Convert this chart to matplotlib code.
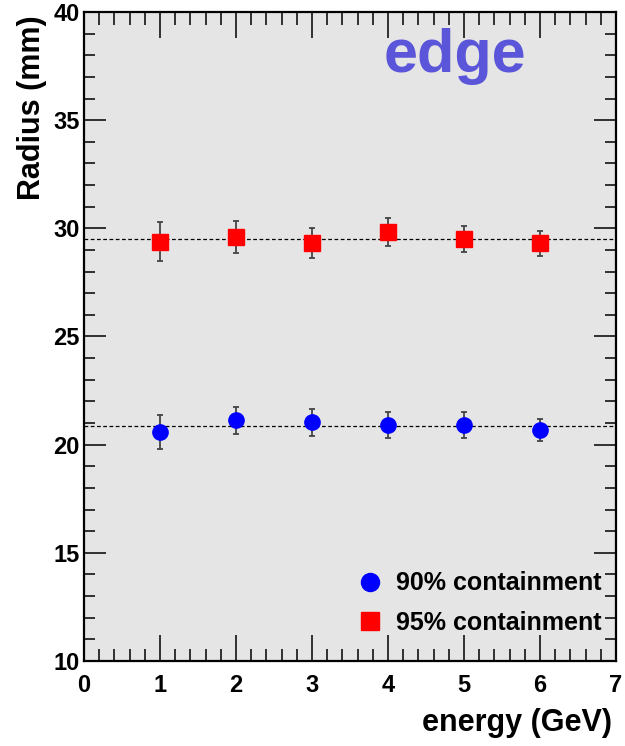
import numpy as np
import matplotlib
matplotlib.use("Agg")
import matplotlib.pyplot as plt
from matplotlib.ticker import MultipleLocator
from matplotlib.lines import Line2D

plt.rcParams['font.family'] = ['Liberation Sans', 'DejaVu Sans']
plt.rcParams['font.weight'] = 'bold'

energy = [1, 2, 3, 4, 5, 6]
r90 = [20.60, 21.12, 21.04, 20.89, 20.92, 20.69]
r90_err = [0.78, 0.63, 0.62, 0.60, 0.60, 0.51]
r95 = [29.38, 29.61, 29.31, 29.83, 29.52, 29.31]
r95_err = [0.90, 0.74, 0.70, 0.65, 0.60, 0.58]
labels = ['90% containment', '95% containment']

fig = plt.figure(figsize=(6.25, 7.46), dpi=100)
ax = fig.add_axes([84/625, 85/746, 532/625, 649/746])
ax.set_facecolor('#e5e5e5')

# average lines
ax.axhline(np.mean(r95), color='black', ls=(0, (3, 2)), lw=0.9, zorder=1)
ax.axhline(np.mean(r90), color='black', ls=(0, (3, 2)), lw=0.9, zorder=1)

ax.errorbar(energy, r90, yerr=r90_err, fmt='o', color='blue', ms=11,
            ecolor='#444444', elinewidth=1.3, capsize=2.5, capthick=1.3, zorder=3)
ax.errorbar(energy, r95, yerr=r95_err, fmt='s', color='red', ms=11,
            ecolor='#444444', elinewidth=1.3, capsize=2.5, capthick=1.3, zorder=3)

ax.set_xlim(0, 7)
ax.set_ylim(10, 40)
ax.xaxis.set_major_locator(MultipleLocator(1))
ax.xaxis.set_minor_locator(MultipleLocator(0.2))
ax.yaxis.set_major_locator(MultipleLocator(5))
ax.yaxis.set_minor_locator(MultipleLocator(1))
ax.tick_params(which='both', direction='in', top=True, right=True, width=1.1)
ax.tick_params(axis='x', which='major', length=19, labelsize=17, pad=9)
ax.tick_params(axis='x', which='minor', length=9)
ax.tick_params(axis='y', which='major', length=16, labelsize=17, pad=3)
ax.tick_params(axis='y', which='minor', length=8)
for s in ax.spines.values():
    s.set_linewidth(1.6)

ax.set_xlabel('energy (GeV)', fontsize=22, fontweight='bold', ha='right', va='top')
ax.xaxis.set_label_coords(0.9925, -0.073)
ax.set_ylabel('Radius (mm)', fontsize=22, fontweight='bold', ha='right', va='center')
ax.yaxis.set_label_coords(-0.0977, 0.9954)

ax.text(0.6974, 0.907, 'edge', transform=ax.transAxes, ha='center', va='baseline',
        fontsize=44, fontweight='bold', color='#5a55d9')

handles = [Line2D([], [], ls='none', marker='o', ms=13, color='blue'),
           Line2D([], [], ls='none', marker='s', ms=13.5, color='red')]
ax.legend(handles, labels, loc='center left', bbox_to_anchor=(0.514, 0.0894),
          frameon=False, fontsize=18, handlelength=1.0, handletextpad=0.54,
          labelspacing=0.61, borderpad=0, borderaxespad=0)

fig.savefig('out.png', dpi=100)
